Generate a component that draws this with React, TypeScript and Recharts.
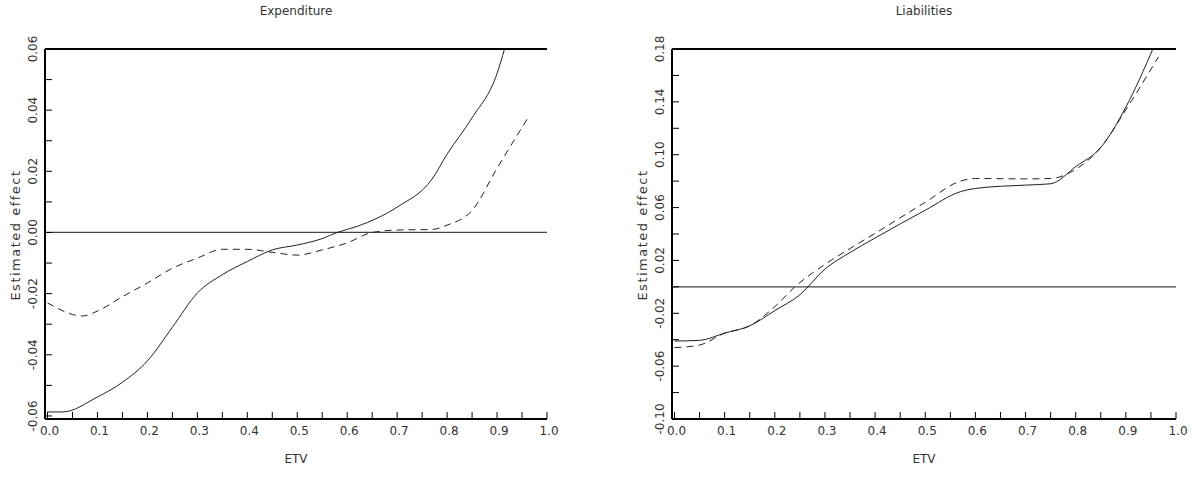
import React from "react";
import { LineChart, Line, XAxis, YAxis, ReferenceLine } from "recharts";

const expSolidX = [0, 0.03, 0.1, 0.15, 0.2, 0.25, 0.3, 0.35, 0.4, 0.45, 0.5, 0.55, 0.58, 0.62, 0.7, 0.77, 0.8, 0.85, 0.9, 0.915];
const expSolidY = [-0.0587, -0.0587, -0.0538, -0.049, -0.042, -0.031, -0.0198, -0.0138, -0.0095, -0.0057, -0.0041, -0.002, 0, 0.002, 0.0083, 0.0175, 0.0256, 0.0375, 0.052, 0.06];
const expDashX = [0, 0.07, 0.1, 0.15, 0.2, 0.25, 0.3, 0.35, 0.4, 0.45, 0.5, 0.55, 0.6, 0.65, 0.7, 0.77, 0.8, 0.85, 0.9, 0.96];
const expDashY = [-0.023, -0.0273, -0.0257, -0.021, -0.0165, -0.0117, -0.0084, -0.0055, -0.0055, -0.0065, -0.0074, -0.0057, -0.0034, 0, 0.0008, 0.001, 0.0024, 0.0072, 0.021, 0.037];

const libSolidX = [0, 0.05, 0.1, 0.15, 0.2, 0.25, 0.3, 0.35, 0.4, 0.5, 0.57, 0.6, 0.7, 0.75, 0.8, 0.85, 0.9, 0.955];
const libSolidY = [-0.041, -0.0405, -0.035, -0.0295, -0.018, -0.006, 0.0135, 0.026, 0.037, 0.058, 0.072, 0.0745, 0.077, 0.078, 0.091, 0.1055, 0.136, 0.181];
const libDashX = [0, 0.05, 0.1, 0.15, 0.2, 0.24, 0.3, 0.35, 0.4, 0.5, 0.57, 0.6, 0.7, 0.75, 0.8, 0.85, 0.9, 0.965];
const libDashY = [-0.046, -0.044, -0.035, -0.0295, -0.015, 0, 0.017, 0.029, 0.0405, 0.064, 0.08, 0.082, 0.0817, 0.082, 0.089, 0.1055, 0.134, 0.174];

const xTicks = [0, 0.05, 0.1, 0.15, 0.2, 0.25, 0.3, 0.35, 0.4, 0.45, 0.5, 0.55, 0.6, 0.65, 0.7, 0.75, 0.8, 0.85, 0.9, 0.95, 1.0];
const expYTicks = [-0.06, -0.05, -0.04, -0.03, -0.02, -0.01, 0, 0.01, 0.02, 0.03, 0.04, 0.05, 0.06];
const libYTicks = [-0.1, -0.08, -0.06, -0.04, -0.02, 0, 0.02, 0.04, 0.06, 0.08, 0.1, 0.12, 0.14, 0.16, 0.18];

const FONT = "DejaVu Sans";
const TXT = "#333";

const zip = (xs: number[], ys: number[]) => xs.map((x, i) => ({ x, y: ys[i] }));

const isMult = (v: number, step: number) => Math.abs(Math.round(v / step) * step - v) < 1e-6;

function XTick(props: any) {
  const { x, y, payload, side } = props;
  const v = payload.value;
  const dir = side === "top" ? 1 : -1;
  return (
    <g>
      <line x1={x} x2={x} y1={y} y2={y + dir * 7} stroke="#000" strokeWidth={1} />
      {side !== "top" && isMult(v, 0.1) && (
        <text x={x + 2} y={y + 16} textAnchor="middle" fontSize={12} fontFamily={FONT} fill={TXT}>
          {v.toFixed(1)}
        </text>
      )}
    </g>
  );
}

function YTick(props: any) {
  const { x, y, payload, side, labelStep, base } = props;
  const v = payload.value;
  const dir = side === "right" ? -1 : 1;
  return (
    <g>
      <line x1={x} x2={x + dir * 7} y1={y} y2={y} stroke="#000" strokeWidth={1} />
      {side !== "right" && isMult(v - base, labelStep) && (
        <text
          x={x - 8}
          y={y}
          transform={`rotate(-90 ${x - 8} ${y})`}
          textAnchor="middle"
          fontSize={12}
          fontFamily={FONT}
          fill={TXT}
        >
          {v.toFixed(2)}
        </text>
      )}
    </g>
  );
}

function Panel({ title, solid, dashed, yDomain, yTicks, labelStep, left, width, yWidth, height }: any) {
  return (
    <div style={{ position: "absolute", left, top: 0, width, height }}>
      <div style={{ position: "absolute", top: 4, left: yWidth, right: 20, textAlign: "center", fontFamily: FONT, fontSize: 12, color: TXT }}>
        {title}
      </div>
      <div style={{ position: "absolute", top: 452, left: yWidth, right: 20, textAlign: "center", fontFamily: FONT, fontSize: 12, color: TXT }}>
        ETV
      </div>
      <div
        style={{
          position: "absolute",
          left: yWidth - 30,
          top: 235,
          transform: "translate(-50%, -50%) rotate(-90deg)",
          fontFamily: FONT,
          fontSize: 13,
          letterSpacing: 1.5,
          color: TXT,
          whiteSpace: "nowrap",
        }}
      >
        Estimated effect
      </div>
      <LineChart width={width} height={height} margin={{ top: 0, right: 20, left: 0, bottom: 0 }}>
        <XAxis dataKey="x" type="number" xAxisId="b" domain={[-0.005, 1]} ticks={xTicks} allowDataOverflow
          orientation="bottom" height={62} tickSize={0} tickMargin={0} tickLine={false}
          axisLine={{ stroke: "#000", strokeWidth: 2 }} tick={<XTick side="bottom" />} interval={0} />
        <XAxis type="number" xAxisId="t" domain={[-0.005, 1]} ticks={xTicks} allowDataOverflow
          orientation="top" height={49} tickSize={0} tickMargin={0} tickLine={false}
          axisLine={{ stroke: "#000", strokeWidth: 2 }} tick={<XTick side="top" />} interval={0} />
        <YAxis type="number" yAxisId="l" domain={yDomain} ticks={yTicks} allowDataOverflow width={yWidth}
          tickSize={0} tickMargin={0} tickLine={false} axisLine={{ stroke: "#000", strokeWidth: 2 }}
          tick={<YTick side="left" labelStep={labelStep} base={yTicks[0]} />} interval={0} />
        <YAxis type="number" yAxisId="r" orientation="right" domain={yDomain} ticks={yTicks} allowDataOverflow width={0}
          tickSize={0} tickMargin={0} tickLine={false} axisLine={{ stroke: "#000", strokeWidth: 2 }}
          tick={<YTick side="right" labelStep={labelStep} base={yTicks[0]} />} interval={0} />
        <ReferenceLine y={0} xAxisId="b" yAxisId="l" stroke="#444" strokeWidth={1.2} />
        <Line data={solid} type="monotone" dataKey="y" xAxisId="b" yAxisId="l" stroke="#222" strokeWidth={1} dot={false} isAnimationActive={false} />
        <Line data={dashed} type="monotone" dataKey="y" xAxisId="b" yAxisId="l" stroke="#222" strokeWidth={1} strokeDasharray="7 5" dot={false} isAnimationActive={false} />
      </LineChart>
    </div>
  );
}

export default function App() {
  return (
    <div style={{ position: "absolute", left: 0, top: 0, width: 1196, height: 481, background: "#fff" }}>
      <Panel
        title="Expenditure"
        solid={zip(expSolidX, expSolidY)}
        dashed={zip(expDashX, expDashY)}
        yDomain={[-0.061, 0.06]}
        yTicks={expYTicks}
        labelStep={0.02}
        left={0}
        width={567}
        yWidth={45}
        height={481}
      />
      <Panel
        title="Liabilities"
        solid={zip(libSolidX, libSolidY)}
        dashed={zip(libDashX, libDashY)}
        yDomain={[-0.1, 0.18]}
        yTicks={libYTicks}
        labelStep={0.04}
        left={600}
        width={596}
        yWidth={72}
        height={481}
      />
    </div>
  );
}
